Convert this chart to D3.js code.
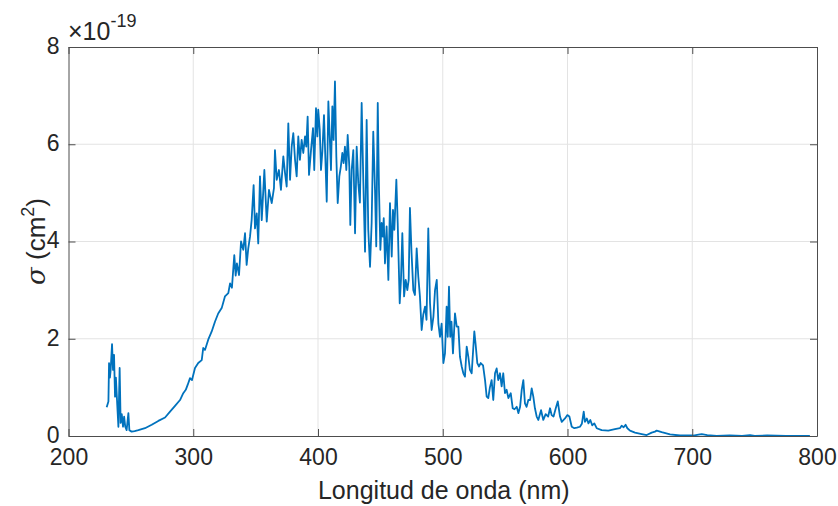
<!DOCTYPE html>
<html>
<head>
<meta charset="utf-8">
<script src="https://cdn.jsdelivr.net/npm/d3@7"></script>
<style>
  body { margin: 0; background: #fff; }
  svg text { font-family: "Liberation Sans", Arial, sans-serif; fill: #262626; }
</style>
</head>
<body>
<svg id="chart" width="838" height="506"></svg>
<script>
// wavelength in nm, cross section in units of 1e-19 cm^2
const wavelength = [
  230.6, 232.0, 232.5, 233.2, 233.8, 234.9, 235.7, 236.5, 237.3, 238.0, 239.0, 240.0, 241.0, 241.8, 242.7,
  243.7, 244.6, 245.5, 246.6, 248.0, 248.8, 250.6, 253.0, 256.0, 261.3, 266.7, 272.0, 277.4, 281.4, 285.4,
  289.4, 292.0, 294.0, 295.5, 297.4, 299.0, 301.4, 304.0, 306.8, 308.0, 309.4, 312.0, 314.8, 317.4, 320.0,
  322.8, 325.4, 328.1, 329.5, 331.0, 332.9, 334.0, 335.0, 336.7, 338.3, 340.1, 341.5, 342.8, 344.1, 345.5,
  346.8, 348.4, 349.5, 350.9, 352.1, 353.5, 354.9, 357.0, 358.9, 360.7, 362.9, 364.7, 365.5, 366.9, 368.7,
  370.3, 372.2, 373.6, 374.9, 376.2, 377.6, 378.9, 380.2, 381.6, 382.9, 384.2, 385.5, 386.9, 388.2, 389.6,
  390.6, 391.7, 392.8, 394.4, 396.0, 397.0, 398.4, 399.5, 400.2, 401.4, 402.4, 403.5, 404.8, 405.9, 407.0,
  408.3, 409.4, 410.4, 411.5, 412.5, 413.6, 414.7, 415.8, 417.1, 418.3, 419.5, 420.5, 421.6, 422.7, 423.8,
  425.1, 425.9, 427.0, 428.3, 429.7, 431.0, 432.3, 433.6, 435.0, 436.3, 437.7, 439.0, 440.3, 441.7, 443.0,
  444.3, 445.7, 446.7, 447.9, 448.9, 450.0, 451.0, 451.9, 452.7, 453.7, 455.0, 456.4, 457.7, 459.1, 460.1,
  461.2, 462.8, 463.9, 465.5, 466.5, 467.6, 469.0, 470.3, 471.6, 472.7, 473.7, 475.0, 476.4, 477.7, 479.1,
  480.4, 481.7, 483.1, 484.4, 485.8, 487.0, 488.4, 489.8, 491.1, 492.5, 493.8, 495.2, 496.5, 497.8, 499.1,
  500.5, 501.8, 503.1, 504.0, 505.0, 506.0, 507.0, 508.2, 509.8, 511.2, 512.5, 513.8, 515.2, 516.5, 517.8,
  519.2, 520.5, 521.8, 523.2, 525.3, 526.3, 527.7, 529.0, 530.4, 532.3, 533.9, 535.2, 536.5, 537.8, 539.2,
  540.5, 541.9, 543.2, 544.5, 545.9, 547.2, 548.5, 549.9, 551.2, 552.6, 554.5, 556.1, 557.5, 559.3, 560.6,
  562.0, 563.3, 564.6, 565.9, 567.2, 568.6, 570.0, 571.3, 572.6, 573.9, 575.3, 576.6, 578.8, 580.6, 582.5,
  584.5, 586.0, 587.3, 588.8, 590.6, 592.2, 594.0, 595.4, 598.0, 599.9, 601.5, 603.4, 605.5, 607.5, 610.0,
  611.5, 613.0, 614.0, 615.5, 616.8, 618.3, 619.8, 621.5, 623.4, 627.4, 632.7, 638.0, 642.0, 643.4, 645.0,
  646.6, 648.0, 650.1, 654.1, 659.5, 663.5, 667.5, 670.1, 671.5, 675.5, 682.2, 690.2, 700.8, 705.0, 707.6,
  712.0, 719.6, 730.0, 740.0, 746.3, 750.0, 760.0, 775.0, 794.3
];
const sigma = [
  0.59, 0.71, 1.50, 1.20, 1.36, 1.89, 1.36, 1.67, 0.81, 1.20, 0.68, 0.19, 1.40, 0.27, 0.45,
  0.19, 0.40, 0.19, 0.12, 0.47, 0.12, 0.09, 0.10, 0.12, 0.16, 0.23, 0.31, 0.38, 0.50, 0.62,
  0.74, 0.88, 0.95, 1.05, 1.19, 1.15, 1.40, 1.50, 1.56, 1.81, 1.77, 1.98, 2.15, 2.35, 2.52,
  2.63, 2.87, 2.94, 3.14, 3.05, 3.72, 3.30, 3.55, 3.31, 4.00, 3.83, 4.17, 3.52, 3.86, 4.10,
  4.44, 5.16, 4.27, 4.58, 3.96, 5.34, 4.44, 5.47, 4.41, 5.06, 4.79, 5.10, 5.88, 5.27, 5.47,
  5.06, 5.75, 5.40, 5.13, 6.43, 5.27, 5.95, 6.23, 5.68, 5.34, 6.16, 5.68, 6.09, 5.82, 6.16,
  5.95, 6.57, 5.37, 5.88, 6.33, 5.47, 6.74, 6.16, 6.71, 6.30, 5.47, 5.85, 6.60, 5.71, 4.82,
  6.88, 6.16, 5.47, 6.78, 6.09, 7.29, 5.75, 4.79, 5.34, 5.54, 5.82, 5.61, 5.95, 5.47, 6.19,
  5.54, 4.34, 5.47, 5.88, 4.17, 5.95, 5.20, 4.80, 6.85, 5.27, 3.79, 6.50, 4.24, 3.48, 4.38,
  6.26, 5.06, 3.90, 6.85, 5.06, 3.83, 4.38, 4.10, 4.48, 3.55, 4.31, 3.21, 4.79, 3.69, 4.65,
  4.24, 5.27, 4.38, 2.73, 3.21, 4.17, 2.87, 3.21, 3.00, 3.21, 4.69, 3.76, 3.00, 2.90, 3.86,
  3.28, 2.87, 2.18, 2.50, 2.66, 2.39, 4.27, 2.73, 2.18, 2.45, 3.00, 3.21, 2.31, 2.04, 2.31,
  1.50, 1.70, 2.66, 2.04, 3.07, 2.04, 2.35, 1.70, 2.52, 2.25, 2.25, 1.63, 1.43, 1.29, 1.22,
  1.84, 1.63, 1.36, 1.29, 2.15, 1.90, 1.50, 1.43, 1.50, 1.45, 1.15, 0.81, 0.78, 1.00, 1.15,
  0.74, 1.29, 1.39, 1.15, 1.29, 1.02, 1.29, 0.88, 0.95, 0.78, 0.88, 0.57, 0.55, 0.60, 0.47,
  0.60, 0.95, 1.15, 0.67, 0.60, 0.74, 0.74, 0.98, 0.81, 0.57, 0.40, 0.33, 0.53, 0.33, 0.45,
  0.40, 0.57, 0.43, 0.40, 0.57, 0.71, 0.40, 0.29, 0.36, 0.43, 0.40, 0.19, 0.16, 0.17, 0.19,
  0.25, 0.50, 0.29, 0.36, 0.26, 0.33, 0.22, 0.26, 0.16, 0.12, 0.11, 0.14, 0.16, 0.21, 0.18,
  0.23, 0.16, 0.11, 0.07, 0.04, 0.02, 0.07, 0.09, 0.11, 0.08, 0.035, 0.01, 0.01, 0.03, 0.04,
  0.02, 0.00, 0.01, 0.00, 0.02, 0.00, 0.01, 0.00, 0.00
];
const xTicks = [200, 300, 400, 500, 600, 700, 800];
const yTicks = [0, 2, 4, 6, 8];

const svg = d3.select('#chart');
const plotLeft = 68.5, plotRight = 817, plotTop = 47, plotBottom = 436;
const tickLen = 7;
const axisColor = '#4d4d4d';

const x = d3.scaleLinear().domain([200, 800]).range([plotLeft, plotRight]);
const y = d3.scaleLinear().domain([0, 8]).range([plotBottom, plotTop]);

// grid
const grid = svg.append('g');
grid.selectAll('.gx').data(xTicks.slice(1, -1)).enter().append('line')
  .attr('x1', d => x(d)).attr('x2', d => x(d))
  .attr('y1', plotTop).attr('y2', plotBottom)
  .attr('stroke', '#e3e3e3').attr('stroke-width', 1);
grid.selectAll('.gy').data(yTicks.slice(1, -1)).enter().append('line')
  .attr('x1', plotLeft).attr('x2', plotRight)
  .attr('y1', d => y(d)).attr('y2', d => y(d))
  .attr('stroke', '#e3e3e3').attr('stroke-width', 1);

// data line
const pts = wavelength.map((w, i) => [w, sigma[i]]);
svg.append('path')
  .datum(pts)
  .attr('fill', 'none')
  .attr('stroke', '#0072BD')
  .attr('stroke-width', 1.8)
  .attr('stroke-linejoin', 'round')
  .attr('d', d3.line().x(d => x(d[0])).y(d => y(d[1])));

// axes (ticks pointing inward, box on)
function styleAxis(g) {
  g.select('.domain').attr('stroke', axisColor);
  g.selectAll('.tick line').attr('stroke', axisColor);
  g.selectAll('.tick text')
    .style('font-size', '23px')
    .attr('font-family', '"Liberation Sans", Arial, sans-serif')
    .attr('fill', '#262626');
}

svg.append('g').attr('transform', `translate(0,${plotBottom})`)
  .call(d3.axisBottom(x).tickValues(xTicks).tickSize(-tickLen).tickPadding(13).tickSizeOuter(0))
  .call(styleAxis);
svg.append('g').attr('transform', `translate(0,${plotTop})`)
  .call(d3.axisTop(x).tickValues(xTicks).tickSize(-tickLen).tickFormat('').tickSizeOuter(0))
  .call(styleAxis);
svg.append('g').attr('transform', `translate(${plotLeft},0)`)
  .call(d3.axisLeft(y).tickValues(yTicks).tickSize(-tickLen).tickPadding(9).tickSizeOuter(0))
  .call(styleAxis)
  .selectAll('.tick text').attr('dy', '0.28em');
svg.append('g').attr('transform', `translate(${plotRight},0)`)
  .call(d3.axisRight(y).tickValues(yTicks).tickSize(-tickLen).tickFormat('').tickSizeOuter(0))
  .call(styleAxis);

// exponent label
const expo = svg.append('text').attr('x', 68).attr('y', 40).style('font-size', '25px');
expo.append('tspan').text('×10');
expo.append('tspan').attr('dy', -13).style('font-size', '18px').text('-19');

// x label
svg.append('text')
  .attr('x', (plotLeft + plotRight) / 2 + 1).attr('y', 499)
  .attr('text-anchor', 'middle')
  .style('font-size', '25px')
  .text('Longitud de onda (nm)');

// y label
const yl = svg.append('text')
  .attr('transform', `translate(45,${(plotTop + plotBottom) / 2}) rotate(-90)`)
  .attr('text-anchor', 'middle')
  .style('font-size', '26px');
yl.append('tspan').style('font-style', 'italic').style('font-family', '"DejaVu Serif", serif').text('σ');
yl.append('tspan').text(' (cm');
yl.append('tspan').attr('dy', -11).style('font-size', '18px').text('2');
yl.append('tspan').attr('dy', 11).text(')');
</script>
</body>
</html>
